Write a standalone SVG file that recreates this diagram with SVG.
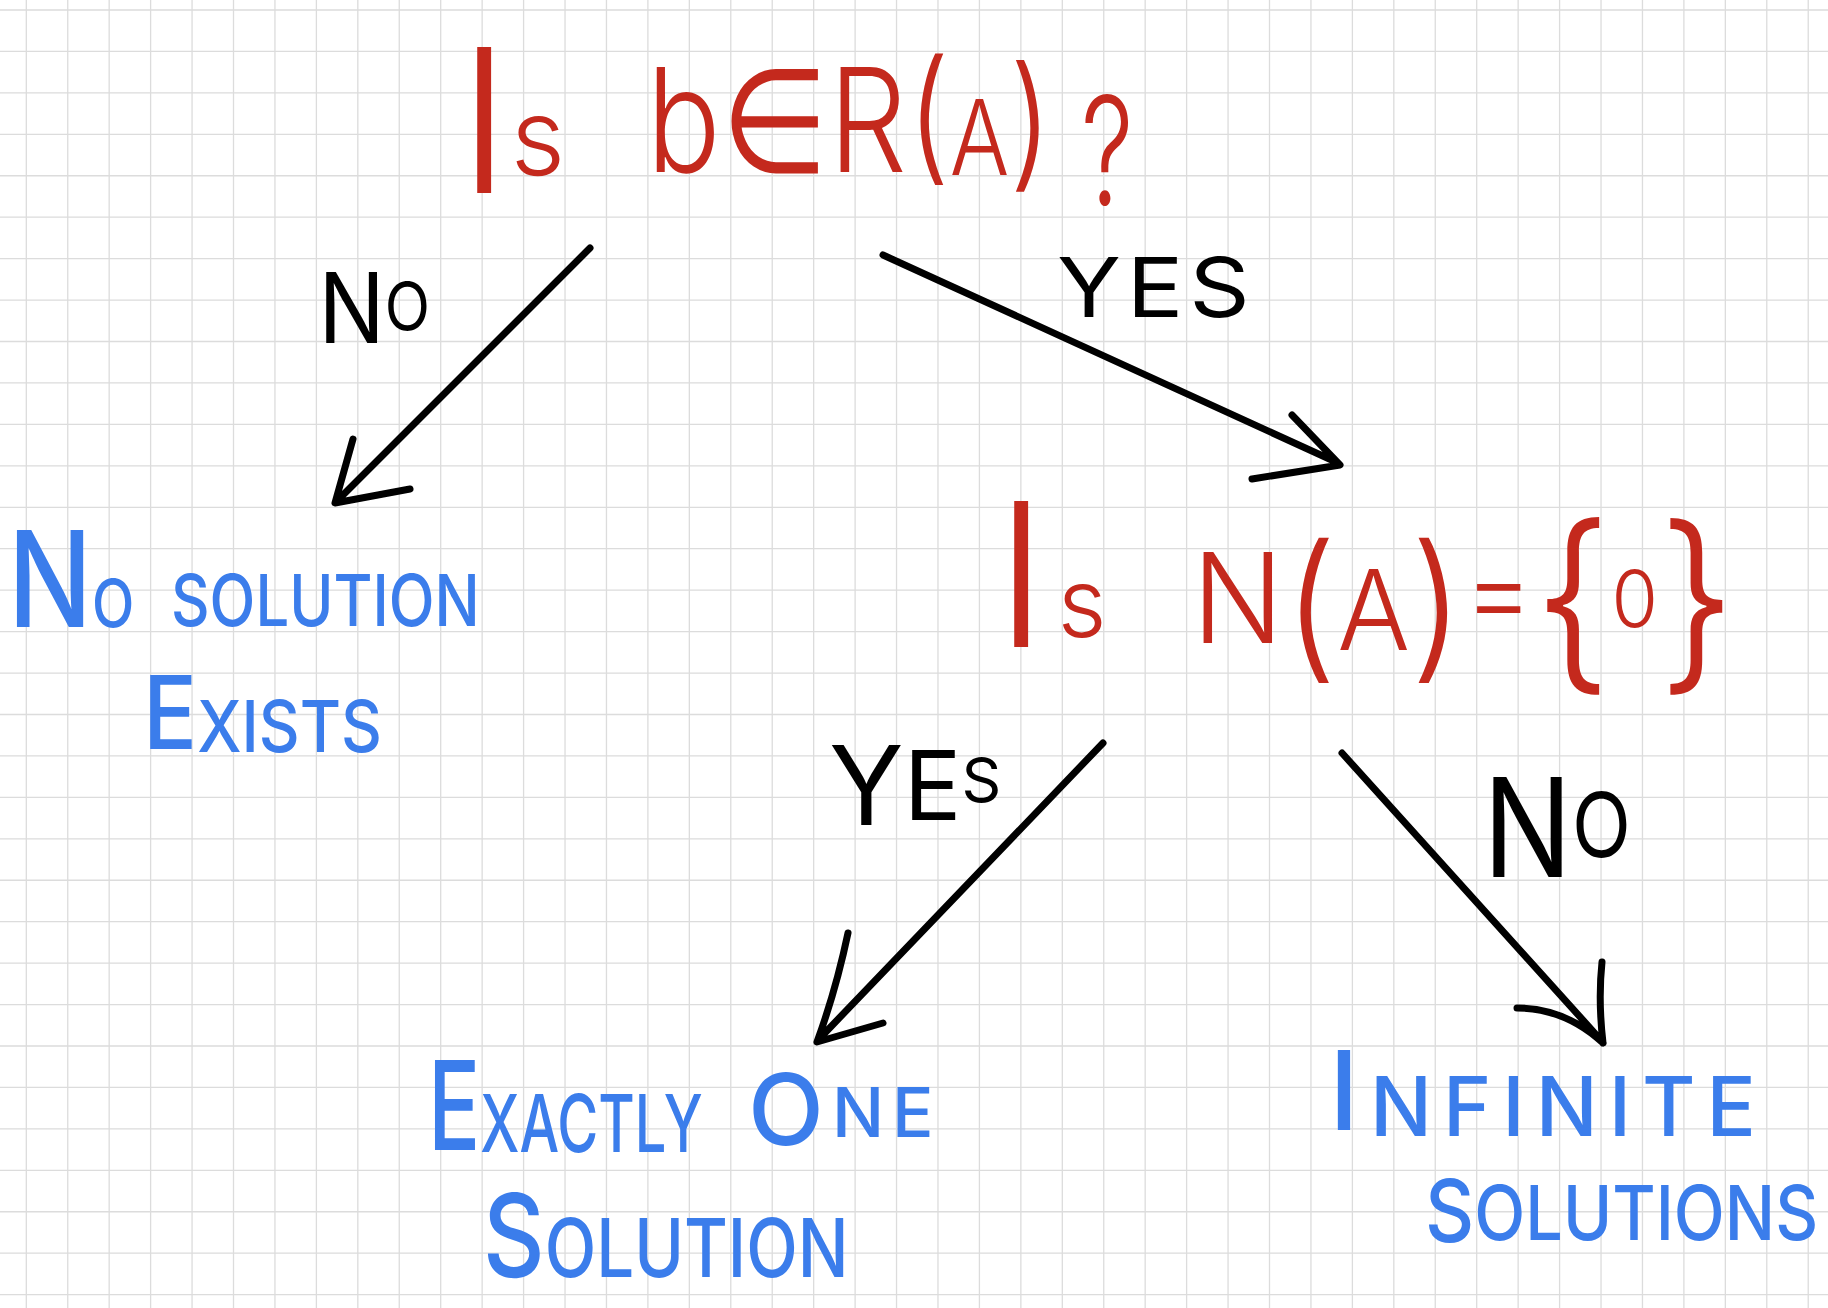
<svg xmlns="http://www.w3.org/2000/svg" width="1828" height="1308" viewBox="0 0 1828 1308">
<style>
.grid{stroke:#dcdcdc;stroke-width:1.3;fill:none}
.conn{stroke:#000;stroke-width:7;fill:none;stroke-linecap:round;stroke-linejoin:round}
text{font-family:Inter,"Liberation Sans","DejaVu Sans",sans-serif}
.red{fill:#c4291d;font-weight:300}
.blue{fill:#3b7deb;font-weight:500}
.lbl{fill:#000;font-weight:400}
</style>
<rect width="1828" height="1308" fill="#ffffff"/>
<path class="grid" d="M26.3,0V1308M67.74,0V1308M109.18,0V1308M150.62,0V1308M192.06,0V1308M233.5,0V1308M274.94,0V1308M316.38,0V1308M357.82,0V1308M399.26,0V1308M440.7,0V1308M482.14,0V1308M523.58,0V1308M565.02,0V1308M606.46,0V1308M647.9,0V1308M689.34,0V1308M730.78,0V1308M772.22,0V1308M813.66,0V1308M855.1,0V1308M896.54,0V1308M937.98,0V1308M979.42,0V1308M1020.86,0V1308M1062.3,0V1308M1103.74,0V1308M1145.18,0V1308M1186.62,0V1308M1228.06,0V1308M1269.5,0V1308M1310.94,0V1308M1352.38,0V1308M1393.82,0V1308M1435.26,0V1308M1476.7,0V1308M1518.14,0V1308M1559.58,0V1308M1601.02,0V1308M1642.46,0V1308M1683.9,0V1308M1725.34,0V1308M1766.78,0V1308M1808.22,0V1308
M0,10H1828M0,51.44H1828M0,92.88H1828M0,134.32H1828M0,175.76H1828M0,217.2H1828M0,258.64H1828M0,300.08H1828M0,341.52H1828M0,382.96H1828M0,424.4H1828M0,465.84H1828M0,507.28H1828M0,548.72H1828M0,590.16H1828M0,631.6H1828M0,673.04H1828M0,714.48H1828M0,755.92H1828M0,797.36H1828M0,838.8H1828M0,880.24H1828M0,921.68H1828M0,963.12H1828M0,1004.56H1828M0,1046H1828M0,1087.44H1828M0,1128.88H1828M0,1170.32H1828M0,1211.76H1828M0,1253.2H1828M0,1294.64H1828"/>

<g id="connectors">
  <g id="edge-q1-no">
    <path class="conn" d="M590,248L340,498M353,439L335,503L410,489"/>
    <text class="lbl" transform="translate(318.5,343) scale(0.897,1)"><tspan font-size="98">N</tspan><tspan font-size="66" dy="-13">O</tspan></text>
  </g>
  <g id="edge-q1-yes">
    <path class="conn" d="M883,255L1336,462M1292,415L1340,465L1252,479"/>
    <text class="lbl" transform="translate(1057,317) scale(1.15,1)" font-size="82" letter-spacing="5">YES</text>
  </g>
  <g id="edge-q2-yes">
    <path class="conn" d="M1103,743L821,1037M848,933Q836,990 817,1042L883,1023"/>
    <text class="lbl" x="829" y="825"><tspan font-size="110">Y</tspan><tspan font-size="96" dy="-5">E</tspan><tspan font-size="62" dy="-18">S</tspan></text>
  </g>
  <g id="edge-q2-no">
    <path class="conn" d="M1342,753L1600,1039M1602,962Q1598,1000 1603,1043M1517,1008Q1565,1008 1603,1043"/>
    <text class="lbl" transform="translate(1483,877) scale(0.856,1)"><tspan font-size="138">N</tspan><tspan font-size="90" dy="-20">O</tspan></text>
  </g>
</g>

<g id="q1">
  <text class="red" x="458" y="193"><tspan font-size="200">I</tspan><tspan font-size="106" dy="-18">s</tspan></text>
  <text class="red" transform="translate(646.5,172) scale(0.85,1)"><tspan font-size="145">b∈R(</tspan><tspan font-size="104" dy="3">A</tspan><tspan font-size="145" dy="-3">)</tspan></text>
  <text class="red" transform="translate(1081,205) scale(0.7,1)" font-size="150">?</text>
</g>

<g id="q2">
  <text class="red" x="995" y="647"><tspan font-size="200">I</tspan><tspan font-size="95" dx="10" dy="-10">s</tspan></text>
  <text class="red" transform="translate(1192,643) scale(0.965,1)"><tspan font-size="125">N</tspan><tspan font-size="160" dy="18">(</tspan><tspan font-size="112" dy="-11">A</tspan><tspan font-size="160" dy="11">)</tspan><tspan font-size="110" dy="-31">=</tspan><tspan font-size="195" dy="38">{</tspan><tspan font-size="78" dy="-41">0</tspan><tspan font-size="195" dy="41">}</tspan></text>
</g>

<g id="no-solution">
  <text class="blue" transform="translate(8,627) scale(0.836,1)"><tspan font-size="133">N</tspan><tspan font-size="66">O</tspan></text>
  <text class="blue" transform="translate(171,626) scale(0.83,1)" font-size="72">SOLUTION</text>
  <text class="blue" transform="translate(143,749) scale(0.88,1)"><tspan font-size="102">E</tspan><tspan font-size="72" dy="3">XISTS</tspan></text>
</g>

<g id="one-solution">
  <text class="blue" transform="translate(428,1150) scale(0.7,1)"><tspan font-size="124">E</tspan><tspan font-size="80" dy="2">XACTLY</tspan></text>
  <text class="blue" x="748" y="1145" letter-spacing="8"><tspan font-size="99">O</tspan><tspan font-size="69" dy="-8">NE</tspan></text>
  <text class="blue" transform="translate(483,1277) scale(0.83,1)"><tspan font-size="115">S</tspan><tspan font-size="81">OLUTION</tspan></text>
</g>

<g id="infinite-solutions">
  <text class="blue" x="1329" y="1130" letter-spacing="11"><tspan font-size="110">I</tspan><tspan font-size="82" dy="6">NFINITE</tspan></text>
  <text class="blue" transform="translate(1425,1242) scale(0.876,1)"><tspan font-size="87">S</tspan><tspan font-size="76" dy="-2">OLUTIONS</tspan></text>
</g>
</svg>
